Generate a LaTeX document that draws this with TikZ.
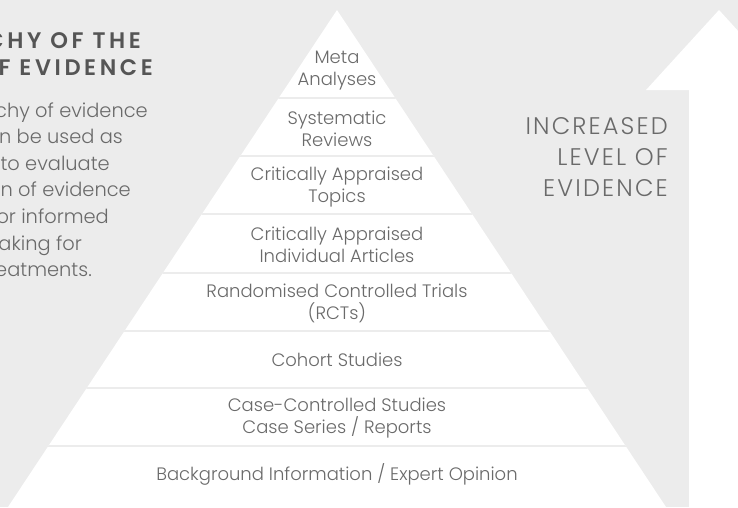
\documentclass[tikz,border=0pt]{standalone}
\usepackage{fontspec}
\setmainfont{Poppins}[UprightFont=* Light, BoldFont=* SemiBold]
\usetikzlibrary{calc}

\definecolor{bggray}{HTML}{ECECEC}
\definecolor{txtgray}{HTML}{6A6A6A}
\definecolor{titlegray}{HTML}{555555}

\begin{document}
\begin{tikzpicture}[x=1pt, y=-1pt,
		layer/.style={text=txtgray, font=\fontsize{18}{22}\selectfont, align=center, inner sep=0pt},
		sep/.style={draw=bggray, line width=2pt},
		headline/.style={text=titlegray, font=\fontsize{22.5}{27}\bfseries\addfontfeatures{LetterSpace=16}, anchor=base east, inner sep=0pt},
		blurb/.style={text=txtgray, font=\fontsize{19.4}{26}\selectfont, anchor=base east, inner sep=0pt},
		rise/.style={text=txtgray, font=\fontsize{24}{31}\selectfont\addfontfeatures{LetterSpace=9}, align=right, anchor=east, inner sep=0pt}]
		\useasboundingbox (0,0) rectangle (738,507);
		\clip (0,0) rectangle (738,507);
		\fill[bggray] (0,0) rectangle (738,507);
		
		% pyramid
		\coordinate (apex) at (337,10);
		\coordinate (bl) at (8,507);
		\coordinate (br) at (666,507);
		\fill[white] (apex) -- (bl) -- (br) -- cycle;
		\begin{scope}
			\clip (apex) -- (bl) -- (br) -- cycle;
			\draw[sep] (0,98) -- (738,98);
			\draw[sep] (0,156) -- (738,156);
			\draw[sep] (0,214) -- (738,214);
			\draw[sep] (0,273) -- (738,273);
			\draw[sep] (0,331) -- (738,331);
			\draw[sep] (0,388) -- (738,388);
			\draw[sep] (0,446) -- (738,446);
		\end{scope}
		
		% arrow
		\fill[white] (689,507) -- (689,90) -- (646,90) -- (719,10) -- (792,90) -- (749,90) -- (749,507) -- cycle;
		
		\node[layer] (meta) at (337,71) {Meta\\Analyses};
		\node[layer] (sysrev) at (337,128.5) {Systematic\\Reviews};
		\node[layer] (topics) at (337,187.5) {Critically Appraised\\Topics};
		\node[layer] (articles) at (337,244.5) {Critically Appraised\\Individual Articles};
		\node[layer] (rct) at (337,303.5) {Randomised Controlled Trials\\(RCTs)};
		\node[layer] (cohort) at (337,360) {Cohort Studies};
		\node[layer] (casectl) at (337,418) {Case-Controlled Studies\\Case Series / Reports};
		\node[layer] (expert) at (337,474) {Background Information / Expert Opinion};
		
		\node[rise] (increased) at (668,157) {INCREASED\\LEVEL OF\\EVIDENCE};
		
		\node[headline] (head1) at (141,48) {CHY OF THE};
		\node[headline] (head2) at (153,75) {F EVIDENCE};
		
		\node[blurb] (line1) at (148,117) {chy of evidence};
		\node[blurb] (line2) at (123,143.6) {n be used as};
		\node[blurb] (line3) at (110,170.2) {to evaluate};
		\node[blurb] (line4) at (131,196.8) {n of evidence};
		\node[blurb] (line5) at (109,223.4) {or informed};
		\node[blurb] (line6) at (82,250) {aking for};
		\node[blurb] (line7) at (92,276.6) {eatments.};
		
	\end{tikzpicture}
\end{document}
